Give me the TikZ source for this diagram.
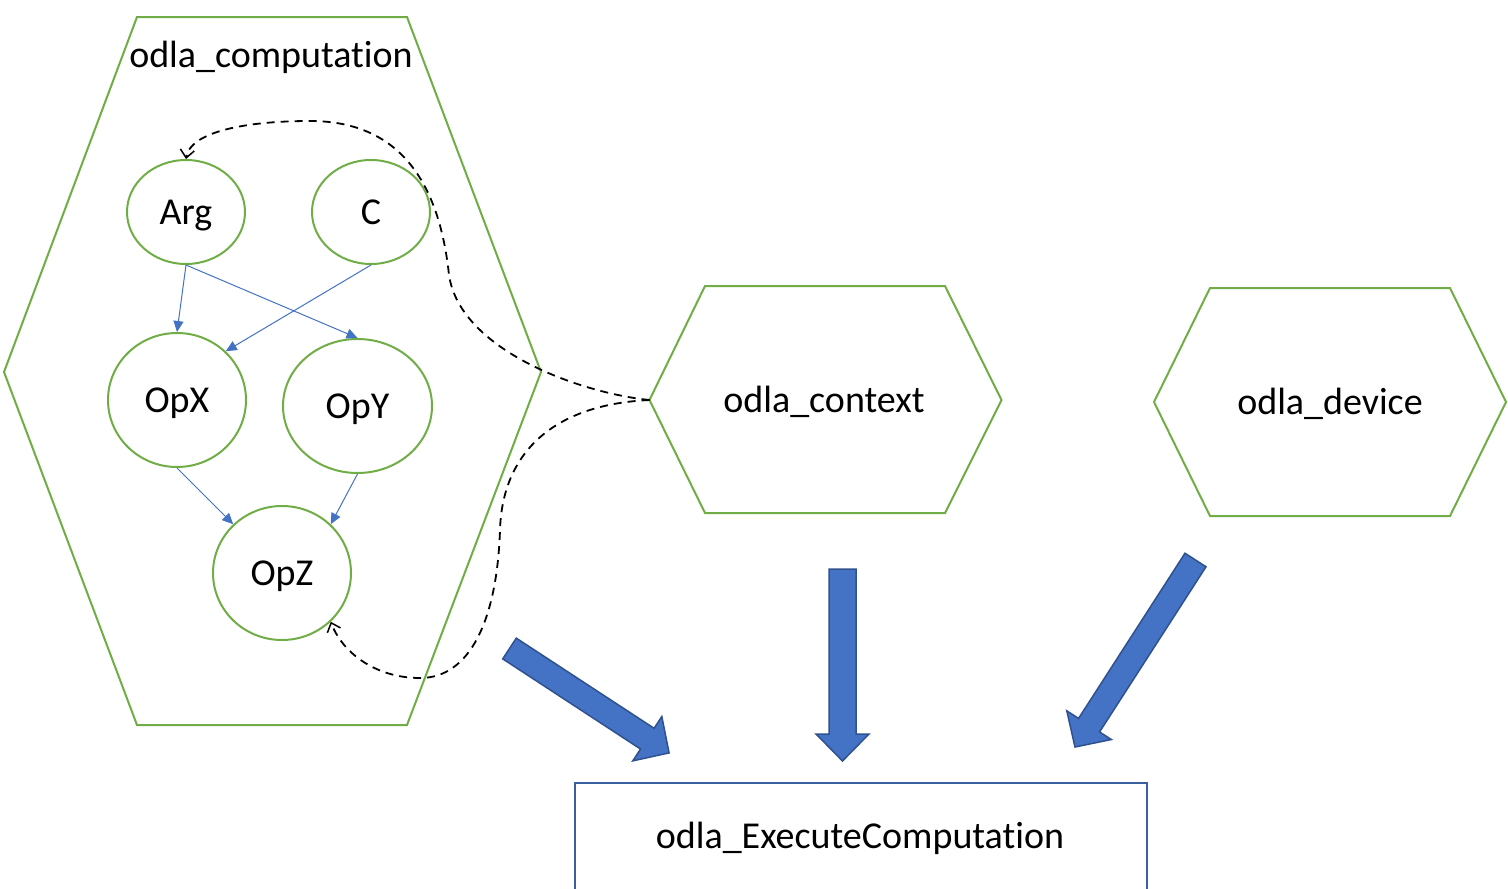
\documentclass[tikz,border=0pt]{standalone}
\usepackage{fontspec}
\setmainfont{Carlito}[Ligatures={NoCommon}]
\usetikzlibrary{shapes.geometric,arrows.meta}
\definecolor{hexgreen}{HTML}{70AD47}
\definecolor{accblue}{HTML}{4472C4}
\definecolor{darkblue}{HTML}{2F528F}
\definecolor{boxblue}{HTML}{3A5E9E}
\tikzset{
  lbl/.style={font=\fontsize{38}{42}\selectfont, inner sep=0pt, text height=24.5pt, text depth=0pt},
  opnode/.style={ellipse, draw=hexgreen, line width=2pt, lbl},
  hexline/.style={draw=hexgreen, line width=2pt, line join=miter},
  flow/.style={draw=accblue, line width=1pt, -{Triangle[length=11pt,width=10pt]}},
  ref/.style={draw=black, line width=1.8pt, dash pattern=on 8pt off 6pt, -{Straight Barb[length=8pt,width=14pt,line width=1.5pt]}},
  blockarrow/.style={fill=accblue, draw=darkblue, line width=1.5pt, line join=miter},
}
\begin{document}
\begin{tikzpicture}[x=1pt,y=-1pt]
\useasboundingbox (0,0) rectangle (1508,889);
\clip (0,0) rectangle (1508,889);

% odla_computation hexagon
\draw[hexline] (137,17) -- (407,17) -- (541,372) -- (407,725) -- (137,725) -- (4,372) -- cycle;
\node[lbl] (comp) at (271,55) {odla\_computation};

% odla_context hexagon
\draw[hexline] (705,286) -- (945,286) -- (1001.5,400) -- (945,513) -- (705,513) -- (649.5,400) -- cycle;
\coordinate (ctxL) at (649.5,400);
\node[lbl] (ctx) at (824,400.5) {odla\_context};

% odla_device hexagon
\draw[hexline] (1210,288) -- (1450,288) -- (1506,402) -- (1450,516) -- (1210,516) -- (1154,402) -- cycle;
\node[lbl] (dev) at (1330,402) {odla\_device};

% op nodes
\node[opnode, minimum width=118pt, minimum height=104pt] (arg) at (186,212) {Arg};
\node[opnode, minimum width=118pt, minimum height=104pt] (c) at (371,212) {C};
\node[opnode, minimum width=138pt, minimum height=134pt] (opx) at (177,400) {OpX};
\node[opnode, minimum width=149pt, minimum height=134pt] (opy) at (357.5,406) {OpY};
\node[opnode, minimum width=138pt, minimum height=134pt] (opz) at (282,573) {OpZ};

% data flow
\draw[flow] (arg.south) -- (opx.north);
\draw[flow] (arg.south) -- (opy.north);
\draw[flow] (c.south) -- (opx.45);
\draw[flow] (opx.south) -- (opz.135);
\draw[flow] (opy.south) -- (opz.45);

% context references
\draw[ref] (ctxL) .. controls (580,393) and (460,350) .. (449,275)
  .. controls (440,190) and (405,121) .. (310,121)
  .. controls (245,121) and (190,132) .. (arg.north);
\draw[ref] (ctxL) .. controls (545,405) and (502,460) .. (500,530)
  .. controls (497,620) and (470,678) .. (420,678)
  .. controls (375,678) and (342,652) .. (opz.-45);

% execute box
\node[lbl] (exec) at (860,835.75) {odla\_ExecuteComputation};
\draw[draw=boxblue, line width=1.5pt] (575,900) -- (575,783) -- (1147,783) -- (1147,900);

% block arrows
\draw[blockarrow, shift={(509.5,648.5)}, rotate=-33.2]
  (0,12.4) -- (164.7,12.4) -- (164.7,26.5) -- (190.7,0) -- (164.7,-26.5) -- (164.7,-12.4) -- (0,-12.4) -- cycle;
\draw[blockarrow, shift={(842.5,569)}, rotate=-90]
  (0,13.5) -- (165,13.5) -- (165,26.5) -- (192,0) -- (165,-26.5) -- (165,-13.5) -- (0,-13.5) -- cycle;
\draw[blockarrow, shift={(1195.5,560)}, rotate=-122.8]
  (0,12.5) -- (196.5,12.5) -- (196.5,26.5) -- (222.5,0) -- (196.5,-26.5) -- (196.5,-12.5) -- (0,-12.5) -- cycle;
\end{tikzpicture}
\end{document}
